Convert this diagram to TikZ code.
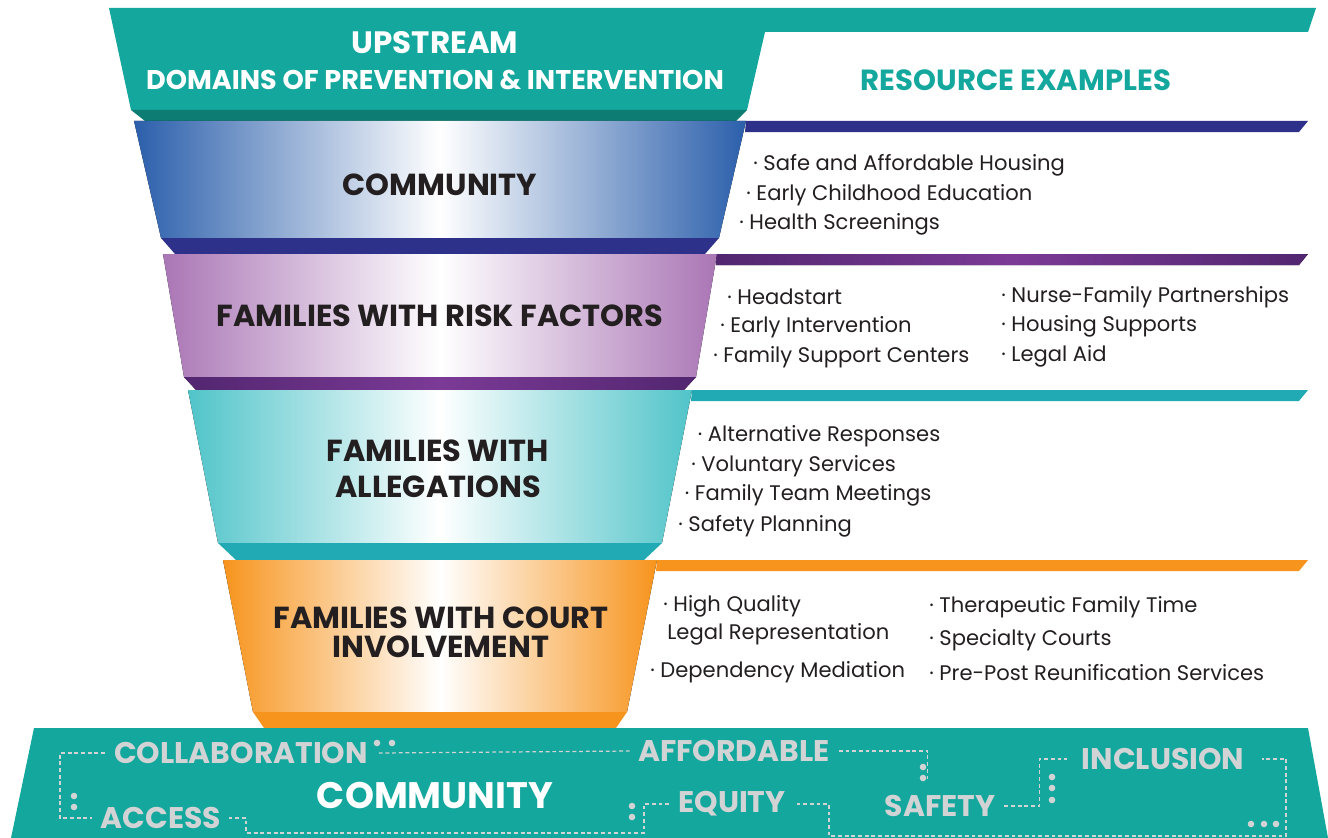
\documentclass[tikz,border=0pt]{standalone}
\usepackage{fontspec}
\setmainfont{Poppins}

\definecolor{teal}{HTML}{13A79D}
\definecolor{tealdark}{HTML}{0D7D74}
\definecolor{blueedge}{HTML}{2B5FAB}
\definecolor{bluedark}{HTML}{2E3189}
\definecolor{purpleedge}{HTML}{AA76B5}
\definecolor{purpledark}{HTML}{522670}
\definecolor{purplemid}{HTML}{7B3A96}
\definecolor{aquaedge}{HTML}{50C4C9}
\definecolor{aquadark}{HTML}{21AAB4}
\definecolor{orangeedge}{HTML}{F7941D}
\definecolor{wordgrey}{HTML}{D1D3D4}
\definecolor{ink}{HTML}{231F20}

% one step of the funnel: body, rim below it and the band out to the right
% #1 body style, #2 rim style, #3 top y, #4 bottom y, #5 rim bottom y,
% #6 top half width, #7 bottom half width, #8 rim half width
\newcommand{\funnelpart}[8]{
	\fill[#1] (440-#6,#3) -- (440+#6,#3) -- (440+#7,#4) -- (440-#7,#4) -- cycle;
	\fill[#2] (440-#7,#4) -- (440+#7,#4) -- (440+#8,#5) -- (440-#8,#5) -- cycle;
	\fill[#2] (440+#6,#3) -- (1308,#3) -- (1299,#3+11) -- (440+#6-1,#3+11) -- cycle;
}

\tikzset{
	topword/.style={text=white, font=\bfseries\fontsize{15.4}{18}\selectfont},
	segtitle/.style={text=ink, font=\bfseries\fontsize{17.3}{20}\selectfont, align=center},
	listitem/.style={text=ink, font=\fontsize{12}{14}\selectfont, anchor=west, inner sep=0pt, yshift=-1.6pt},
	valueword/.style={text=wordgrey, font=\bfseries\fontsize{17}{20}\selectfont, inner sep=0pt},
	dashline/.style={draw=wordgrey, line width=0.7pt, dash pattern=on 2.2pt off 1.6pt},
	commseg/.style={left color=blueedge, right color=blueedge, middle color=white},
	commrim/.style={fill=bluedark},
	riskseg/.style={left color=purpleedge, right color=purpleedge, middle color=white},
	riskrim/.style={left color=purpledark, right color=purpledark, middle color=purplemid},
	allegseg/.style={left color=aquaedge, right color=aquaedge, middle color=white},
	allegrim/.style={fill=aquadark},
	courtseg/.style={left color=orangeedge, right color=orangeedge, middle color=white},
	courtrim/.style={fill=orangeedge}
}

\begin{document}
\begin{tikzpicture}[x=0.02cm, y=-0.02cm]
	\useasboundingbox (0,0) rectangle (1328,838);

	% header
	\fill[teal] (109,8) -- (1316,8) -- (1308,32) -- (765,32) -- (747,110) -- (131,110) -- cycle;
	\fill[tealdark] (131,110) -- (747,110) -- (736,121) -- (145,121) -- cycle;
	\node[topword, font=\bfseries\fontsize{17.6}{20}\selectfont] (upstream) at (435,43) {UPSTREAM};
	\node[topword] (domains) at (435,80) {DOMAINS OF PREVENTION \& INTERVENTION};
	\node[topword, text=teal, font=\bfseries\fontsize{16.6}{19}\selectfont] (resources) at (1016,80) {RESOURCE EXAMPLES};

	% funnel
	\funnelpart{commseg}{commrim}{121}{238}{254}{306}{279}{265}
	\funnelpart{riskseg}{riskrim}{254}{377}{390}{277}{256}{244}
	\funnelpart{allegseg}{allegrim}{390}{543}{560}{252}{222}{204}
	\funnelpart{courtseg}{courtrim}{560}{712}{728}{217}{187}{176}

	\node[segtitle] (community) at (440,185) {COMMUNITY};
	\node[segtitle] (risk) at (440,316) {FAMILIES WITH RISK FACTORS};
	\node[segtitle, font=\bfseries\fontsize{17.3}{20.5}\selectfont] (allegations) at (438,469) {FAMILIES WITH\\ALLEGATIONS};
	\node[segtitle, font=\bfseries\fontsize{17.3}{16.5}\selectfont] (court) at (441,632) {FAMILIES WITH COURT\\INVOLVEMENT};

	% resource examples
	\foreach \txt [count=\i] in {Safe and Affordable Housing, Early Childhood Education, Health Screenings}
		\node[listitem] (comm\i) at (760-7*\i, 132+30*\i) {· \txt};
	\foreach \txt [count=\i] in {Headstart, Early Intervention, Family Support Centers}
		\node[listitem] (riskA\i) at (734-7*\i, 264+30*\i) {· \txt};
	\foreach \txt [count=\i] in {Nurse-Family Partnerships, Housing Supports, Legal Aid}
		\node[listitem] (riskB\i) at (1001, 264+30*\i) {· \txt};
	\foreach \txt [count=\i] in {Alternative Responses, Voluntary Services, Family Team Meetings, Safety Planning}
		\node[listitem] (alleg\i) at (704-6.5*\i, 403+30*\i) {· \txt};
	\node[listitem] (courtA1) at (663,604) {· High Quality};
	\node[listitem] (courtA2) at (667,632) {Legal Representation};
	\node[listitem] (courtA3) at (650,669) {· Dependency Mediation};
	\foreach \txt [count=\i] in {Therapeutic Family Time, Specialty Courts, Pre-Post Reunification Services}
		\node[listitem] (courtB\i) at (929, 571+33*\i) {· \txt};

	% community base
	\fill[teal] (34,728) -- (1308,728) -- (1328,838) -- (11,838) -- cycle;
	\node[valueword] (collab) at (241,753) {COLLABORATION};
	\node[valueword] (afford) at (734,751) {AFFORDABLE};
	\node[valueword] (inclus) at (1163,759) {INCLUSION};
	\node[valueword] (access) at (161,818) {ACCESS};
	\node[valueword] (equity) at (732,804) {EQUITY};
	\node[valueword] (safety) at (940,806) {SAFETY};
	\node[text=white, font=\bfseries\fontsize{21}{24}\selectfont] (base) at (435,795) {COMMUNITY};

	\draw[dashline] ([xshift=-5pt]collab.west) -- ++(-45,0) |- ([xshift=-5pt]access.west);
	\draw[dashline] ([xshift=4pt]access.east) -| (246,833) -- (644,833) |- ([xshift=-4pt]equity.west);
	\draw[dashline] ([xshift=6pt]collab.east) -- ([xshift=-4pt]afford.west);
	\draw[dashline] ([xshift=5pt]afford.east) -| ++(89,30);
	\draw[dashline] ([xshift=6pt]equity.east) -| (829,836) -- (1286,836) |- ([xshift=10pt]inclus.east);
	\draw[dashline] ([xshift=5pt]safety.east) -- ++(35,0) |- ([xshift=-8pt]inclus.west);
	\foreach \p in {(74,796), (74,807), (377,743), (392,743), (632,806), (632,817), (923,767), (923,778),
		(1052,777), (1052,788), (1052,800), (1251,824), (1264,824), (1276,824)}
		\fill[wordgrey] \p circle (3.3);

\end{tikzpicture}
\end{document}
